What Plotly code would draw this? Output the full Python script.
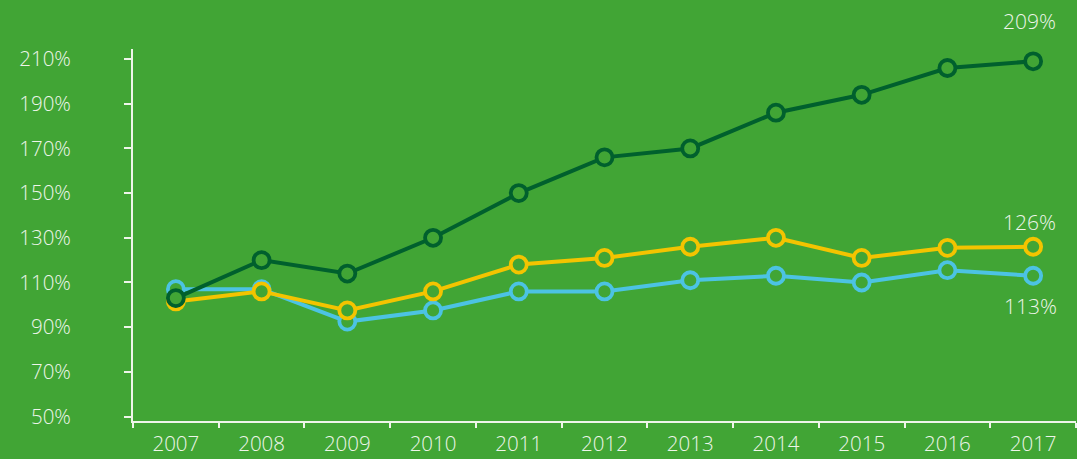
import plotly.graph_objects as go

# Index values by year (percent of base)
years = ["2007", "2008", "2009", "2010", "2011", "2012",
         "2013", "2014", "2015", "2016", "2017"]
series_dark = [103, 120, 114, 130, 150, 166, 170, 186, 194, 206, 209]
series_yellow = [101.5, 106, 97.5, 106, 118, 121, 126, 130, 121, 125.5, 126]
series_blue = [107, 107, 92.5, 97.5, 106, 106, 111, 113, 110, 115.5, 113]
y_ticks = [50, 70, 90, 110, 130, 150, 170, 190, 210]
y_tick_labels = [f"{v}%" for v in y_ticks]

BG = "#41a535"
AXIS = "#eef5ea"
TEXT = "#eef5ea"
FONT = "Open Sans"
WEIGHT = 300

fig = go.Figure()

# draw order: blue under yellow under dark green
for values, color in [(series_blue, "#4cc3e3"),
                      (series_yellow, "#f3c400"),
                      (series_dark, "#00602d")]:
    fig.add_trace(go.Scatter(
        x=years, y=values, mode="lines+markers",
        line=dict(color=color, width=4),
        marker=dict(size=16, color=BG, line=dict(color=color, width=3.8)),
        hoverinfo="skip", showlegend=False,
    ))

# end-of-line value labels
end_labels = [
    (series_dark[-1], 40, -4),
    (series_yellow[-1], 25, -4),
    (series_blue[-1], -30, -3),
]
for val, dy, dx in end_labels:
    fig.add_annotation(
        xref="x", yref="y",
        x=len(years) - 1, y=val, text=f"{val:g}%", showarrow=False,
        yshift=dy, xshift=dx,
        font=dict(family=FONT, size=21, color=TEXT, weight=WEIGHT),
    )

fig.update_layout(
    width=1077, height=459,
    margin=dict(l=133, r=1, t=49, b=38),
    paper_bgcolor=BG, plot_bgcolor=BG,
    font=dict(family=FONT, color=TEXT, size=20, weight=WEIGHT),
)
fig.update_xaxes(
    type="category", range=[-0.5, 10.5], automargin=False,
    showline=True, linecolor=AXIS, linewidth=2,
    ticks="outside", tickson="boundaries", ticklen=5, tickwidth=2, tickcolor=AXIS,
    showgrid=False, zeroline=False,
    tickfont=dict(family=FONT, size=20.5, color=TEXT, weight=WEIGHT),
    ticklabelstandoff=3,
)
fig.update_yaxes(
    range=[48, 214.5], automargin=False,
    tickvals=y_ticks, ticktext=y_tick_labels,
    showline=True, linecolor=AXIS, linewidth=2,
    ticks="outside", ticklen=7, tickwidth=2, tickcolor=AXIS,
    showgrid=False, zeroline=False,
    tickfont=dict(family=FONT, size=20.5, color=TEXT, weight=WEIGHT),
    ticklabelstandoff=49,
)

fig.write_html("out.html")
